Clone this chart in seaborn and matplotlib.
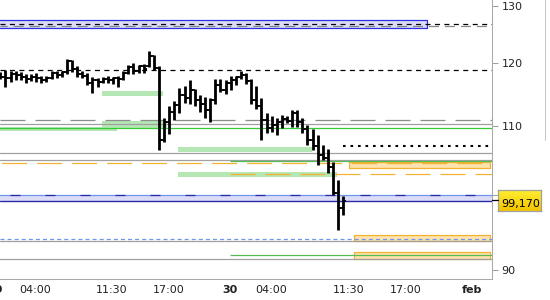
import numpy as np
import pandas as pd
import seaborn as sns
import matplotlib
matplotlib.use("Agg")
import matplotlib.pyplot as plt
from matplotlib.lines import Line2D
from matplotlib.transforms import ScaledTranslation
from matplotlib.colors import LinearSegmentedColormap
from matplotlib.ticker import NullLocator, NullFormatter

# ---------------- data (30-minute OHLC bars) ----------------
opens = [117.91, 117.74, 117.58, 118.23, 118.07, 117.74, 117.42, 117.74, 117.58, 117.26,
         117.58, 118.40, 118.07, 118.57, 120.40, 119.06, 118.23, 117.91, 116.78, 117.26,
         116.94, 117.42, 117.26, 117.58, 117.42, 118.40, 119.40, 118.74, 119.56, 119.56,
         121.23, 119.23, 107.88, 110.61, 112.16, 113.26, 114.84, 114.36, 115.64, 114.04,
         113.41, 112.47, 114.04, 116.45, 115.64, 116.78, 117.26, 117.74, 118.07, 117.10,
         114.04, 113.10, 110.92, 109.70, 110.15, 110.61, 111.07, 110.77, 112.00, 110.61,
         109.54, 107.88, 106.99, 105.66, 105.22, 103.96, 100.18, 98.16]
highs = [118.57, 118.90, 118.74, 118.79, 118.52, 118.23, 118.23, 118.45, 117.96, 117.91,
         118.79, 118.79, 118.79, 120.73, 120.56, 119.56, 118.79, 118.35, 117.69, 117.53,
         117.80, 117.91, 117.80, 117.91, 118.74, 119.73, 120.01, 119.73, 119.90, 122.08,
         121.40, 119.48, 111.18, 113.10, 113.88, 115.92, 116.29, 117.18, 115.88, 114.84,
         114.57, 114.31, 117.37, 117.50, 117.18, 117.99, 117.99, 118.79, 118.45, 117.37,
         116.29, 114.31, 111.96, 111.53, 111.18, 111.69, 111.53, 112.47, 112.47, 111.18,
         110.15, 109.50, 108.63, 107.14, 106.49, 104.68, 102.05, 99.81]
lows = [117.42, 116.08, 116.98, 117.26, 117.26, 116.73, 117.10, 116.98, 116.82, 116.98,
        117.37, 117.53, 117.69, 118.23, 118.62, 117.69, 117.58, 116.45, 115.11, 116.08,
        116.73, 116.82, 116.61, 116.08, 117.26, 118.23, 118.23, 118.35, 118.45, 119.40,
        118.98, 106.39, 107.58, 108.78, 110.92, 111.96, 113.57, 113.34, 113.10, 112.21,
        111.30, 110.66, 113.41, 115.32, 115.00, 115.64, 116.37, 117.42, 116.61, 113.41,
        112.63, 107.81, 108.89, 109.09, 108.56, 109.70, 110.41, 109.77, 109.77, 108.99,
        107.07, 106.32, 104.27, 104.93, 103.00, 99.95, 95.14, 97.21]
closes = [117.75, 117.58, 118.23, 118.07, 117.74, 117.42, 117.74, 117.58, 117.26, 117.58,
          118.40, 118.07, 118.57, 120.40, 119.06, 118.23, 117.91, 116.78, 117.26, 116.94,
          117.42, 117.26, 117.58, 117.42, 118.40, 119.40, 118.74, 119.56, 119.06, 121.23,
          119.23, 107.88, 110.61, 112.16, 113.26, 114.84, 114.36, 115.64, 114.04, 113.41,
          112.47, 114.04, 116.45, 115.64, 116.78, 117.26, 117.74, 118.07, 117.10, 114.04,
          113.10, 110.92, 109.70, 110.15, 110.61, 111.07, 110.77, 112.00, 110.61, 109.54,
          107.88, 106.99, 105.66, 105.22, 103.96, 100.18, 98.16, 99.17]

# x-axis labels
x_tick_labels = ["04:00", "11:30", "17:00", "30", "04:00", "11:30", "17:00", "feb"]
day_labels = ["30", "feb"]
prev_day_label = "29"
y_ticks = [90, 100, 110, 120, 130]

# horizontal price levels
top_band = (125.99, 127.39)          # lavender zone at the top
black_dash_levels = [126.69, 118.85]
grey_dash_level = 126.39
grey_longdash_level = 110.87
grey_solid_levels = [110.35, 105.91, 104.88, 93.76, 91.41]
green_main_level = 109.70
green_late_levels = [104.78, 91.92]
orange_dash_full = 104.45
orange_dash_late = 102.86
dotted_level = 107.03
blue_band = (99.08, 99.91)
blue_dash_level = 93.98
zone_lo = [114.73, 109.70, 109.28, 106.14, 102.52]
zone_hi = [115.48, 110.77, 109.85, 106.88, 103.24]
orange_lo = [103.73, 93.76, 91.45]
orange_hi = [104.62, 94.55, 92.30]

# ---------------- style ----------------
sns.set_style("white")
plt.rcParams['font.family'] = ['DejaVu Sans']
plt.rcParams['lines.scale_dashes'] = False

fig = plt.figure(figsize=(5.5, 3.0), dpi=100)
ax = fig.add_axes([0, 20.7 / 300, 492 / 550, 279.3 / 300])
ax.set_yscale('log')
XL, XR = -0.06, 96.04
ax.set_xlim(XL, XR)
ax.set_ylim(88.90, 131.04)

# layout positions (bar units)
top_band_end = 83.34
zone_from = [19.86, 19.86, XL - 1, 34.71, 34.71]
zone_to = [31.80, 32.56, 22.79, 60.88, 65.76]
late_from = 44.86
dotted_from = 66.93
orange_from = [68.10, 69.08, 69.08]

lav = '#dcdcf6'
navy = '#2a2aa8'
cblue = '#6e96ee'
grey = '#a0a0a0'
lgreen = '#b5e7b5'
orange = '#f4b232'
ofill = '#fde3ad'

# top lavender band
ax.fill_between([XL - 1, top_band_end], top_band[0], top_band[1],
                facecolor=lav, edgecolor='#3030e0', lw=0.9, zorder=1)
# green zones
for lo, hi, a, b in zip(zone_lo, zone_hi, zone_from, zone_to):
    ax.fill_between([a, b], lo, hi, facecolor=lgreen, edgecolor='none', zorder=1.2)
# orange boxes
for lo, hi, a in zip(orange_lo, orange_hi, orange_from):
    ax.fill_between([a, XR - 0.3], lo, hi, facecolor=ofill, edgecolor=orange, lw=0.9, zorder=1.5)
# blue band
ax.fill_between([XL - 1, XR + 1], blue_band[0], blue_band[1], facecolor=lav, edgecolor='none', zorder=1)
ax.axhline(blue_band[1], color=cblue, lw=0.9, zorder=2)
ax.axhline(blue_band[1], color=navy, lw=0.9, linestyle=(18, (7.2, 18)), zorder=2.1)
ax.axhline(blue_band[0], color=navy, lw=1.0, zorder=2)

# lines
for lv in black_dash_levels:
    ax.axhline(lv, color='black', lw=0.9, linestyle=(0, (3.6, 3.2)), zorder=2.2)
ax.axhline(grey_dash_level, color='#888888', lw=0.9, linestyle=(2, (7.2, 4.3)), zorder=2)
ax.axhline(grey_longdash_level, color='#8c8c8c', lw=0.9, linestyle=(0, (18, 7.2)), zorder=2)
for lv in grey_solid_levels:
    ax.axhline(lv, color=grey, lw=0.9, zorder=2)
ax.axhline(green_main_level, color='#33cc33', lw=0.9, zorder=2)
for lv in green_late_levels:
    ax.hlines(lv, late_from, XR, color='#55bb55', lw=0.9, zorder=2)
ax.axhline(orange_dash_full, color=orange, lw=0.9, linestyle=(24, (18, 7.2)), zorder=2)
ax.hlines(orange_dash_late, late_from, XR, color=orange, lw=0.9,
          linestyle=(0, (18, 7.2)), zorder=2)
ax.hlines(dotted_level, dotted_from, XR, color='black', lw=1.5,
          linestyle=(0, (1.9, 3.5)), zorder=2)
ax.axhline(blue_dash_level, color=cblue, lw=0.9, linestyle=(0, (2.9, 2.2)), zorder=2)

# ---------------- OHLC bars via seaborn ----------------
n = len(opens)
xs = np.arange(n)
hl = pd.DataFrame({'x': np.concatenate([xs, xs]),
                   'price': highs + lows,
                   'bar': np.concatenate([xs, xs])})
sns.lineplot(data=hl, x='x', y='price', units='bar', estimator=None, sort=False,
             color='black', lw=2.0, solid_capstyle='butt', ax=ax, legend=False, zorder=3)
tk = 0.6
oc = pd.DataFrame({'x': np.concatenate([xs - tk, xs, xs, xs + tk]),
                   'price': opens + opens + closes + closes,
                   'seg': np.concatenate([xs, xs, xs + n, xs + n])})
sns.lineplot(data=oc, x='x', y='price', units='seg', estimator=None, sort=False,
             color='black', lw=1.3, solid_capstyle='butt', ax=ax, legend=False, zorder=3)
ax.set_xlim(XL, XR)
ax.set_ylim(88.90, 131.04)
ax.set_xlabel('')
ax.set_ylabel('')

# ---------------- axes ----------------
major_pos = [6.78, 21.82, 32.95, 44.86, 52.87, 68.10, 79.24, 92.13]
minor_pos = [10.88, 44.08, 56.97, 90.18]
ax.set_xticks(major_pos)
ax.set_xticklabels(x_tick_labels)
ax.set_xticks(minor_pos, minor=True)
ax.tick_params(axis='x', which='both', direction='out', length=2.2, width=0.75,
               color=grey, labelsize=8, pad=2, labelcolor='#222222')
for t in ax.get_xticklabels():
    if t.get_text() in day_labels:
        t.set_fontweight('bold')

ax.yaxis.tick_right()
ax.yaxis.set_minor_locator(NullLocator())
ax.yaxis.set_minor_formatter(NullFormatter())
ax.set_yticks(y_ticks)
ax.set_yticklabels([str(v) for v in y_ticks])
ax.yaxis.set_minor_locator(NullLocator())
ax.tick_params(axis='y', which='both', direction='out', length=4, width=0.75,
               color=grey, labelsize=8, pad=3, labelcolor='#222222')

for s in ['top', 'left']:
    ax.spines[s].set_visible(False)
for s in ['right', 'bottom']:
    ax.spines[s].set_color('#a8a8a8')
    ax.spines[s].set_linewidth(0.75)

# partially visible label of the previous day
ax.text(-1.04, 0, prev_day_label, fontsize=8, fontweight='bold', color='#222222',
        ha='center', va='top', clip_on=False,
        transform=ax.get_xaxis_transform() + ScaledTranslation(0, -(2.2 + 2) / 72, fig.dpi_scale_trans))

# last-price marker and label
last_label = f"{closes[-1]:.3f}".replace('.', ',')
fig.add_artist(Line2D([492 / 550, 498.3 / 550], [1 - 200 / 300] * 2, color='black', lw=0.9))
lab = fig.add_axes([498.3 / 550, (300 - 210.7) / 300, 42.4 / 550, 20.7 / 300])
grad = np.linspace(0, 1, 50).reshape(-1, 1)
cmap = LinearSegmentedColormap.from_list('yl', ['#ffee30', '#f4c400'])
lab.imshow(grad, aspect='auto', cmap=cmap, extent=[0, 1, 0, 1], origin='upper')
lab.set_xticks([])
lab.set_yticks([])
for s in lab.spines.values():
    s.set_color('#a0a0a0')
    s.set_linewidth(0.9)
lab.text(0.52, 0.2, last_label, ha='center', va='baseline', fontsize=8, color='black',
         transform=lab.transAxes)

# thin border at far right
fig.add_artist(Line2D([544.5 / 550] * 2, [1, 1 - 140 / 300], color='#c8c8c8', lw=0.75))

fig.savefig('out.png', dpi=100)
